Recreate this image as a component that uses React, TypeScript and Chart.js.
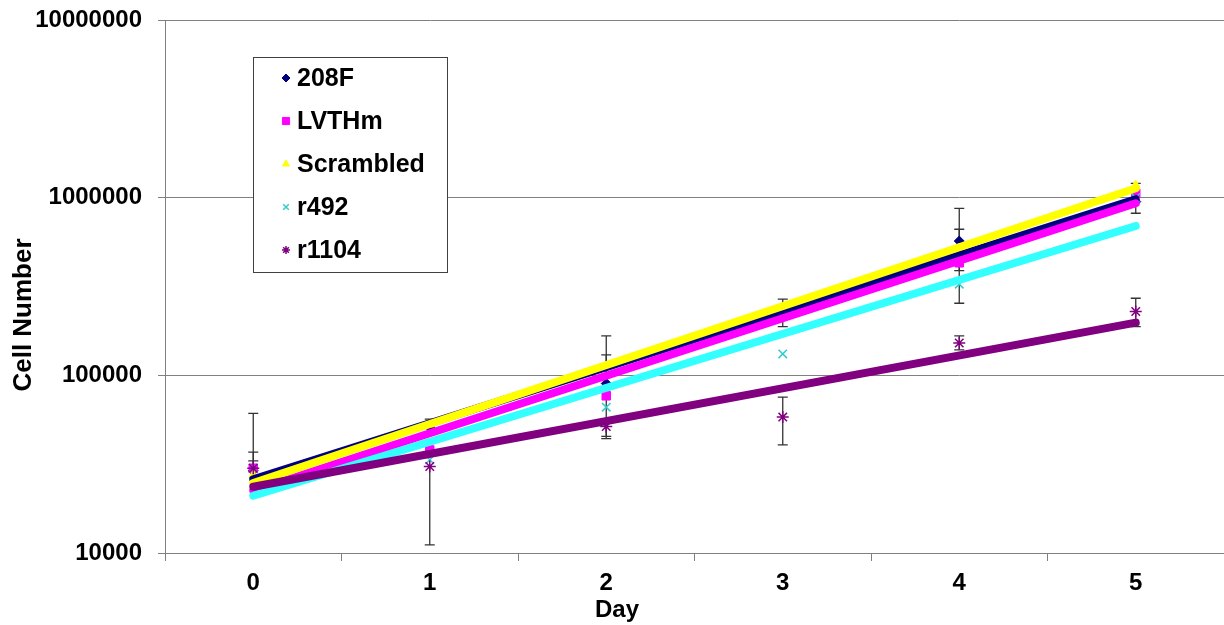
import React, { useEffect, useRef } from 'react';
import { Chart, registerables } from 'chart.js';
import { drawPoint } from 'chart.js/helpers';

Chart.register(...registerables);

// ---------- data ----------
const days = ['0', '1', '2', '3', '4', '5'];
const seriesNames = ['208F', 'LVTHm', 'Scrambled', 'r492', 'r1104'];

const values208F = [29000, 51000, 90000, 225000, 570000, 950000];
const valuesLVTHm = [30000, 38000, 76700, 220000, 430000, 1059000];
const valuesScrambled = [27500, 53000, 112000, 240000, 520000, 1178000];
const valuesR492 = [30000, 33500, 66200, 132000, 326000, 1000000];
const valuesR1104 = [30000, 30700, 51500, 58200, 152000, 228600];

// error bar bounds (null = no bar on that side)
const errHigh208F = [61000, 56700, 166700, 268600, 871000, null];
const errLow208F = [null, null, 44000, 188000, 254500, 817000];
const errHighLVTHm = [37000, null, 130400, null, null, null];
const errLowLVTHm = [null, null, null, null, null, null];
const errHighScrambled = [null, null, null, null, 664000, 1205000];
const errLowScrambled = [null, null, null, null, 388000, null];
const errHighR492 = [33000, null, null, null, null, null];
const errLowR492 = [null, null, null, null, null, null];
const errHighR1104 = [null, null, null, 75300, 166800, 271600];
const errLowR1104 = [null, 11100, 45300, 40600, 139000, 188000];

// exponential trend line values at day 0 and day 5
const trendDay0 = [26000, 22400, 24800, 21000, 23600];
const trendDay5 = [980000, 930000, 1130000, 693000, 198000];

const yTicks = [10000, 100000, 1000000, 10000000];

// ---------- styles ----------
const allValues = [values208F, valuesLVTHm, valuesScrambled, valuesR492, valuesR1104];
const errHighs = [errHigh208F, errHighLVTHm, errHighScrambled, errHighR492, errHighR1104];
const errLows = [errLow208F, errLowLVTHm, errLowScrambled, errLowR492, errLowR1104];

const markerColors = ['#000080', '#FF00FF', '#FFFF00', '#33CCCC', '#800080'];
const trendColors = ['#000080', '#FF00FF', '#FFFF00', '#33FFFF', '#800080'];
const pointStyles = ['rectRot', 'rect', 'triangle', 'crossRot', 'star'];
const pointRadii = [5, 6, 5, 6, 6];
const pointBorderWidths = [1, 1, 1, 1.5, 1.5];

const FONT = '"Liberation Sans", Arial, sans-serif';

const errorBarPlugin = {
  id: 'errorBars',
  beforeDatasetsDraw(chart: any) {
    const { ctx } = chart;
    const x = chart.scales.x;
    const y = chart.scales.y;
    ctx.save();
    ctx.strokeStyle = '#333333';
    ctx.lineWidth = 1.3;
    allValues.forEach((vals, i) => {
      vals.forEach((v, j) => {
        const hi = errHighs[i][j];
        const lo = errLows[i][j];
        if (hi == null && lo == null) return;
        const px = x.getPixelForValue(j);
        const pv = y.getPixelForValue(v);
        const ph = hi != null ? y.getPixelForValue(hi) : pv;
        const pl = lo != null ? y.getPixelForValue(lo) : pv;
        ctx.beginPath();
        ctx.moveTo(px, ph);
        ctx.lineTo(px, pl);
        if (hi != null) {
          ctx.moveTo(px - 5, ph);
          ctx.lineTo(px + 5, ph);
        }
        if (lo != null) {
          ctx.moveTo(px - 5, pl);
          ctx.lineTo(px + 5, pl);
        }
        ctx.stroke();
      });
    });
    ctx.restore();
  },
};

const decorPlugin = {
  id: 'decor',
  afterDraw(chart: any) {
    const { ctx } = chart;
    ctx.save();
    // legend box
    const bx = 253, by = 57, bw = 194, bh = 215;
    ctx.fillStyle = '#ffffff';
    ctx.fillRect(bx, by, bw, bh);
    ctx.strokeStyle = '#404040';
    ctx.lineWidth = 1;
    ctx.strokeRect(bx + 0.5, by + 0.5, bw, bh);
    const rowY = [78, 121, 164, 207, 250];
    seriesNames.forEach((name, i) => {
      ctx.fillStyle = markerColors[i];
      ctx.strokeStyle = markerColors[i];
      ctx.lineWidth = pointBorderWidths[i];
      drawPoint(ctx, { pointStyle: pointStyles[i], radius: i === 1 ? 5 : 4, rotation: 0, borderWidth: pointBorderWidths[i] }, 286, rowY[i]);
      ctx.fillStyle = '#000000';
      ctx.font = `bold 25px ${FONT}`;
      ctx.textAlign = 'left';
      ctx.textBaseline = 'middle';
      ctx.fillText(name, 297, rowY[i] + 1);
    });
    // axis titles
    ctx.fillStyle = '#000000';
    ctx.font = `bold 24px ${FONT}`;
    ctx.textAlign = 'center';
    ctx.textBaseline = 'alphabetic';
    ctx.fillText('Day', 617, 617);
    ctx.translate(31, 315);
    ctx.rotate(-Math.PI / 2);
    ctx.font = `bold 26px ${FONT}`;
    ctx.fillText('Cell Number', 0, 0);
    ctx.restore();
  },
};

export default function App() {
  const canvasRef = useRef<HTMLCanvasElement | null>(null);

  useEffect(() => {
    if (!canvasRef.current) return;
    const markerDatasets = allValues.map((vals, i) => ({
      label: seriesNames[i],
      data: vals,
      showLine: false,
      pointStyle: pointStyles[i],
      pointRadius: pointRadii[i],
      pointBackgroundColor: markerColors[i],
      pointBorderColor: markerColors[i],
      pointBorderWidth: pointBorderWidths[i],
      borderColor: markerColors[i],
      backgroundColor: markerColors[i],
      order: 20 - i,
    }));
    const trendDatasets = allValues.map((_, i) => ({
      label: seriesNames[i] + ' trend',
      data: [trendDay0[i], null, null, null, null, trendDay5[i]],
      spanGaps: true,
      borderColor: trendColors[i],
      backgroundColor: trendColors[i],
      borderWidth: 8,
      borderCapStyle: 'round',
      pointRadius: 0,
      fill: false,
      order: 10 - i,
    }));

    const chart = new Chart(canvasRef.current, {
      type: 'line',
      data: { labels: days, datasets: [...markerDatasets, ...trendDatasets] as any },
      options: {
        responsive: false,
        animation: false,
        layout: { autoPadding: false, padding: { top: 20, right: 0, left: 0, bottom: 0 } },
        plugins: { legend: { display: false }, tooltip: { enabled: false } },
        scales: {
          x: {
            type: 'category',
            offset: true,
            grid: { offset: true, drawOnChartArea: false, drawTicks: true, tickLength: 8, color: '#808080' },
            border: { color: '#808080', width: 1 },
            ticks: { color: '#000000', font: { family: FONT, size: 24, weight: 'bold' }, padding: 8 },
            afterFit: (s: any) => {
              s.height = 72;
              s.paddingLeft = 0;
              s.paddingRight = 0;
            },
          },
          y: {
            type: 'logarithmic',
            min: 10000,
            max: 10000000,
            afterBuildTicks: (s: any) => { s.ticks = yTicks.map((v) => ({ value: v })); },
            afterFit: (s: any) => {
              s.width = 165;
              s.paddingTop = 0;
              s.paddingBottom = 0;
            },
            grid: { color: '#808080', lineWidth: 1, tickLength: 7, drawTicks: true },
            border: { color: '#808080', width: 1 },
            ticks: {
              color: '#000000',
              font: { family: FONT, size: 24, weight: 'bold' },
              padding: 16,
              callback: (v: any) => String(v),
            },
          },
        },
      } as any,
      plugins: [errorBarPlugin, decorPlugin],
    });
    return () => chart.destroy();
  }, []);

  return (
    <div style={{ position: 'fixed', left: 0, top: 0, width: 1224, height: 625, background: '#ffffff' }}>
      <canvas ref={canvasRef} width={1224} height={625} />
    </div>
  );
}
